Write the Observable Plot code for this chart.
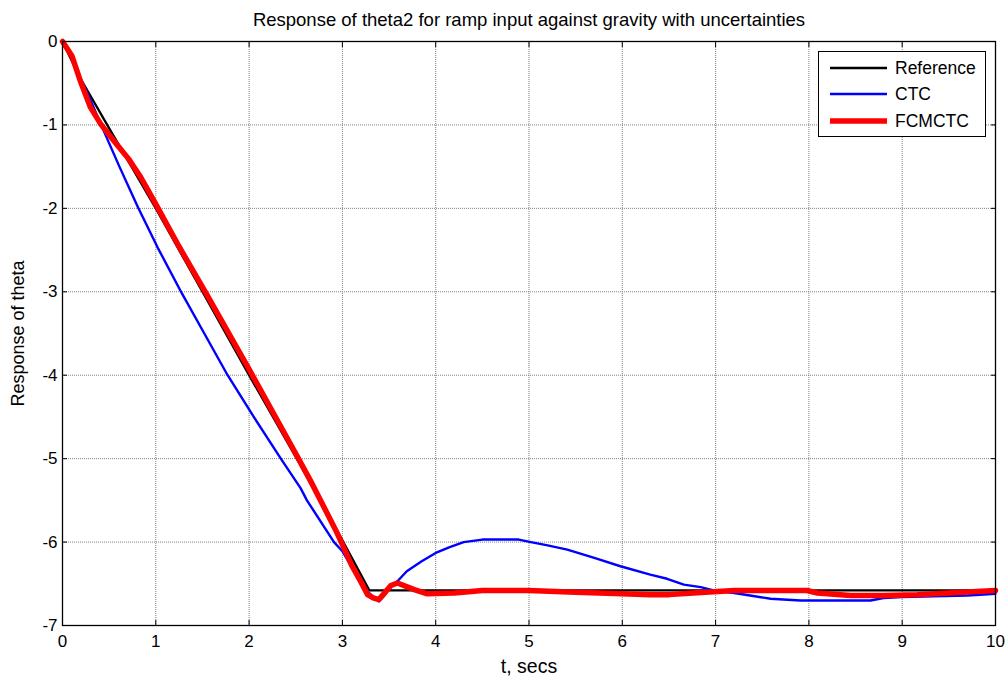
<!DOCTYPE html>
<html>
<head>
<meta charset="utf-8">
<script src="https://cdn.jsdelivr.net/npm/d3@7"></script>
<script src="https://cdn.jsdelivr.net/npm/@observablehq/plot@0.6"></script>
<style>
  body { margin: 0; background: #fff; font-family: "Liberation Sans", Arial, sans-serif; }
  #wrap { position: relative; width: 1006px; height: 677px; background: #fff; }
  #legend { position: absolute; left: 818px; top: 51px; width: 168px; height: 86px;
    border: 1px solid #000; background: #fff; box-sizing: border-box; }
  .row { position: absolute; left: 0; height: 20px; display: flex; align-items: center; }
  .row svg { margin-left: 11px; }
  .row span { margin-left: 8px; font-size: 17.5px; color: #000; }
</style>
</head>
<body>
<div id="wrap"><div id="legend"></div></div>
<script>
const titleText = "Response of theta2 for ramp input against gravity with uncertainties";
const xLabel = "t, secs";
const yLabel = "Response of theta";
const xTicks = [0, 1, 2, 3, 4, 5, 6, 7, 8, 9, 10];
const yTicks = [0, -1, -2, -3, -4, -5, -6, -7];

const seriesNames = ["Reference", "CTC", "FCMCTC"];
const seriesColors = ["#000000", "#0000ff", "#ff0000"];
const seriesWidths = [2.3, 2.4, 5.5];

const refT = [0, 0.18, 0.51, 1.0, 1.5, 2.0, 2.5, 3.0, 3.29, 10];
const refY = [0, -0.42, -1.06, -2.0, -3.0, -4.0, -4.98, -5.98, -6.58, -6.58];

const ctcT = [0, 0.1, 0.18, 0.3, 0.41, 0.61, 0.81, 1.02, 1.28, 1.52, 1.77, 2.05, 2.34, 2.55, 2.62, 2.91, 3.0, 3.1, 3.2, 3.27, 3.33, 3.39, 3.45, 3.5, 3.59, 3.69, 3.85, 4.0, 4.15, 4.3, 4.5, 4.7, 4.89, 5.02, 5.2, 5.41, 5.7, 5.98, 6.3, 6.48, 6.66, 6.84, 6.98, 7.2, 7.37, 7.59, 7.91, 8.3, 8.66, 8.8, 9.0, 9.34, 9.7, 10];
const ctcY = [0, -0.17, -0.41, -0.7, -0.99, -1.5, -1.99, -2.47, -3.02, -3.5, -4.0, -4.5, -5.0, -5.35, -5.5, -6.0, -6.11, -6.3, -6.48, -6.59, -6.66, -6.71, -6.64, -6.55, -6.47, -6.35, -6.23, -6.13, -6.06, -6.0, -5.97, -5.97, -5.97, -6.0, -6.04, -6.09, -6.19, -6.29, -6.39, -6.44, -6.51, -6.54, -6.58, -6.61, -6.64, -6.68, -6.7, -6.7, -6.7, -6.67, -6.66, -6.65, -6.64, -6.62];

const fcmT = [0, 0.1, 0.19, 0.3, 0.41, 0.55, 0.71, 0.84, 1.0, 1.25, 1.55, 2.02, 2.52, 2.66, 2.93, 3.0, 3.1, 3.2, 3.27, 3.33, 3.39, 3.46, 3.52, 3.59, 3.77, 3.91, 4.2, 4.5, 5.0, 5.5, 6.0, 6.3, 6.5, 6.76, 7.2, 7.98, 8.09, 8.45, 8.8, 9.16, 9.5, 10];
const fcmY = [0, -0.17, -0.47, -0.79, -0.99, -1.19, -1.41, -1.63, -1.95, -2.46, -3.04, -3.97, -4.98, -5.27, -5.86, -6.03, -6.28, -6.48, -6.63, -6.67, -6.69, -6.6, -6.52, -6.49, -6.57, -6.62, -6.61, -6.58, -6.58, -6.6, -6.62, -6.63, -6.63, -6.61, -6.58, -6.58, -6.61, -6.64, -6.64, -6.63, -6.61, -6.58];

const series = [
  {name: seriesNames[0], t: refT, v: refY},
  {name: seriesNames[1], t: ctcT, v: ctcY},
  {name: seriesNames[2], t: fcmT, v: fcmY}
];
const tables = series.map(s => s.t.map((t, i) => ({t, v: s.v[i], name: s.name})));

const xMin = d3.min(xTicks), xMax = d3.max(xTicks);
const yMin = d3.min(yTicks), yMax = d3.max(yTicks);

const font = '"Liberation Sans", Arial, sans-serif';
const gridStyle = {stroke: "#808080", strokeOpacity: 1, strokeWidth: 1, strokeDasharray: "1,1"};

const chart = Plot.plot({
  width: 1006,
  height: 677,
  marginLeft: 62,
  marginRight: 11,
  marginTop: 41,
  marginBottom: 52,
  style: {fontFamily: font, fontSize: "17px", background: "#fff", color: "#000"},
  x: {domain: [xMin, xMax]},
  y: {domain: [yMin, yMax]},
  marks: [
    Plot.gridX(xTicks, gridStyle),
    Plot.gridY(yTicks, gridStyle),
    Plot.axisX(xTicks, {anchor: "bottom", tickSize: 0, tickPadding: 9, tickFormat: d => String(d), label: null, fontSize: 17}),
    Plot.axisY(yTicks, {anchor: "left", tickSize: 0, tickPadding: 5, tickFormat: d => String(d), label: null, fontSize: 17}),
    Plot.axisX(xTicks, {anchor: "bottom", tickSize: -5, text: null, label: null, stroke: "#000"}),
    Plot.axisX(xTicks, {anchor: "top", tickSize: -5, text: null, label: null, stroke: "#000"}),
    Plot.axisY(yTicks, {anchor: "left", tickSize: -5, text: null, label: null, stroke: "#000"}),
    Plot.axisY(yTicks, {anchor: "right", tickSize: -5, text: null, label: null, stroke: "#000"}),
    ...tables.map((tab, i) => Plot.line(tab, {x: "t", y: "v", stroke: seriesColors[i], strokeWidth: seriesWidths[i], strokeLinejoin: "round", strokeLinecap: "round"})),
    Plot.frame({stroke: "#000", strokeWidth: 1.3}),
    Plot.text([titleText], {frameAnchor: "top", dy: -21, fontSize: 18.5, textAnchor: "middle", lineAnchor: "middle", fill: "#000"}),
    Plot.text([xLabel], {frameAnchor: "bottom", dy: 41, fontSize: 19.5, textAnchor: "middle", lineAnchor: "middle", fill: "#000"}),
    Plot.text([yLabel], {frameAnchor: "left", dx: -44, rotate: -90, fontSize: 18, textAnchor: "middle", lineAnchor: "middle", fill: "#000"})
  ]
});
document.getElementById("wrap").prepend(chart);

const legend = document.getElementById("legend");
const rowTops = [6, 32, 59];
seriesNames.forEach((name, i) => {
  const row = document.createElement("div");
  row.className = "row";
  row.style.top = rowTops[i] + "px";
  row.innerHTML = `<svg width="57" height="10"><line x1="0" x2="57" y1="5" y2="5" stroke="${seriesColors[i]}" stroke-width="${seriesWidths[i]}"/></svg><span>${name}</span>`;
  legend.appendChild(row);
});
</script>
</body>
</html>
